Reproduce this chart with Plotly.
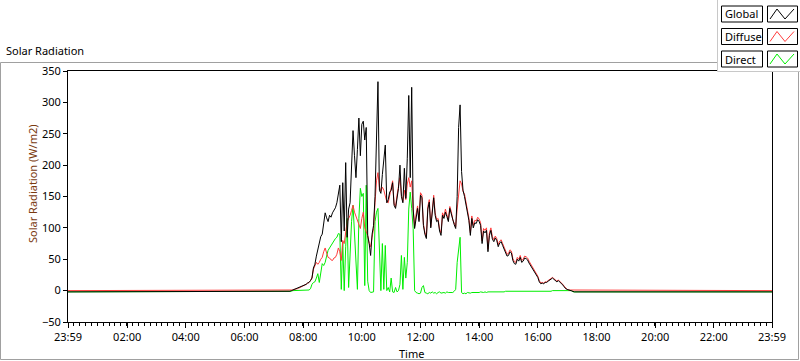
import pandas as pd
import plotly.graph_objects as go

# ---- data (W/m2), 3-minute samples from 07:30 to 17:30, plus night endpoints ----
day_start = "2024-01-01 07:30"
day_end = "2024-01-01 17:30"
t_first = "2023-12-31 23:59"
t_last = "2024-01-01 23:59"

night_global = -2
night_diffuse = 0
night_direct = -2

global_rad = [
    -2, -1, 0, 1, 2, 2, 3, 4, 5, 6,
    8, 9, 10, 12, 13, 16, 20, 36, 42, 55,
    66, 72, 86, 90, 107, 124, 116, 110, 120, 117,
    124, 128, 132, 140, 158, 168, 78, 172, 95, 204,
    85, 130, 140, 200, 255, 215, 180, 225, 275, 215,
    265, 270, 240, 260, 88, 75, 56, 90, 104, 150,
    240, 333, 160, 155, 185, 205, 232, 140, 145, 157,
    160, 172, 136, 131, 150, 163, 200, 150, 140, 195,
    147, 211, 311, 180, 324, 130, 99, 118, 131, 110,
    152, 148, 104, 90, 83, 130, 141, 100, 130, 148,
    120, 110, 112, 95, 88, 120, 115, 125, 118, 110,
    131, 122, 110, 105, 99, 150, 260, 296, 190, 160,
    150, 138, 120, 112, 88, 115, 100, 108, 107, 113,
    110, 104, 75, 95, 92, 96, 62, 88, 96, 82,
    78, 84, 80, 70, 76, 78, 72, 66, 58, 55,
    56, 62, 60, 48, 43, 42, 50, 47, 53, 45,
    47, 52, 51, 49, 44, 40, 37, 33, 30, 26,
    21, 14, 11, 12, 11, 13, 13, 15, 17, 19,
    20, 18, 16, 14, 16, 14, 12, 9, 6, 3,
    2, 1, 1, 0, -2, -2, -2, -2, -2, -2, -2,
]

diffuse_rad = [
    0, 0, 0, 1, 2, 2, 3, 4, 5, 6,
    8, 9, 10, 12, 13, 16, 20, 34, 40, 45,
    42, 45, 50, 53, 62, 68, 60, 53, 52, 49,
    48, 52, 53, 58, 68, 62, 48, 80, 75, 95,
    110, 115, 120, 128, 136, 125, 118, 112, 105, 99,
    115, 125, 100, 93, 88, 75, 70, 85, 99, 140,
    175, 188, 165, 158, 165, 160, 150, 142, 140, 150,
    162, 175, 138, 134, 152, 165, 180, 152, 142, 160,
    145, 170, 180, 165, 175, 130, 102, 122, 135, 113,
    156, 152, 106, 93, 86, 134, 145, 102, 134, 152,
    124, 113, 115, 98, 92, 124, 118, 130, 121, 113,
    134, 126, 113, 108, 102, 130, 160, 175, 170, 158,
    154, 142, 124, 116, 92, 119, 104, 112, 111, 117,
    114, 108, 79, 99, 96, 100, 66, 92, 100, 86,
    81, 87, 83, 73, 79, 81, 75, 69, 61, 58,
    59, 65, 63, 51, 46, 45, 53, 50, 56, 48,
    50, 55, 54, 52, 47, 43, 40, 36, 33, 29,
    23, 16, 12, 13, 12, 14, 14, 16, 18, 20,
    21, 19, 17, 15, 17, 15, 13, 10, 7, 4,
    2, 1, 1, 0, 0, 0, 0, 0, 0, 0, 0,
]

direct_rad = [
    -2, -2, -1, 0, 0, 0, 0, 0, 0, 0,
    0, 0, 0, 0, 1, 3, 10, 13, 14, 20,
    27, 13, 30, 43, 40, 45, 55, 64, 68, 72,
    75, 78, 83, 85, 91, 90, 2, 77, 0, 70,
    115, 5, 75, 110, 136, 90, 60, 2, 115, 163,
    150, 155, 8, 168, 15, 0, -3, -3, -2, 110,
    125, 131, 70, 0, 75, 2, 72, 0, 5, -2,
    20, -2, -3, 5, -2, 0, 10, 56, 2, 53,
    20, 45, 130, 157, 131, 99, 0, -3, -4, -5,
    -4, 5, 8, -3, -4, -5, -3, -4, -2, -4,
    -3, -5, -3, -2, -4, -3, -3, -4, -2, -3,
    -3, -2, -3, -1, 2, 45, 70, 85, -3, -5,
    -4, -5, -3, -4, -4, -3, -3, -4, -3, -3,
    -3, -2, -3, -3, -2, -3, -2, -2, -3, -2,
    -2, -2, -3, -2, -2, -2, -2, -2, -1, -1,
    -1, -1, -1, -1, -1, -1, -1, -1, -1, -1,
    -1, -1, -1, -1, -1, -1, -1, -1, -1, -1,
    -1, -1, -2, -1, -1, -1, -1, -1, -1, -1,
    0, 0, 0, 0, 0, 0, 0, 0, 0, 0,
    0, 0, 0, 0, -2, -2, -2, -2, -2, -2, -2,
]

tick_times = ["2023-12-31 23:59", "2024-01-01 02:00", "2024-01-01 04:00", "2024-01-01 06:00",
              "2024-01-01 08:00", "2024-01-01 10:00", "2024-01-01 12:00", "2024-01-01 14:00",
              "2024-01-01 16:00", "2024-01-01 18:00", "2024-01-01 20:00", "2024-01-01 22:00",
              "2024-01-01 23:59"]
tick_labels = ["23:59", "02:00", "04:00", "06:00", "08:00", "10:00", "12:00",
               "14:00", "16:00", "18:00", "20:00", "22:00", "23:59"]
y_ticks = [-50, 0, 50, 100, 150, 200, 250, 300, 350]

series_names = ["Global", "Diffuse", "Direct"]
series_colors = {"Global": "#000000", "Diffuse": "#ff3b3b", "Direct": "#00ee00"}

# ---- build ----
grid = list(pd.date_range(day_start, day_end, freq="3min"))
times = [pd.Timestamp(t_first)] + grid + [pd.Timestamp(t_last)]
series = {
    "Global": [night_global] + global_rad + [night_global],
    "Diffuse": [night_diffuse] + diffuse_rad + [night_diffuse],
    "Direct": [night_direct] + direct_rad + [night_direct],
}

FONT = "Noto Sans"
FS = 11
W, H = 800, 361
ML, MR, MT, MB = 68, 28, 71, 39
PW, PH = W - ML - MR, H - MT - MB


def px(x):
    return (x - ML) / PW


def py(y):
    return (H - MB - y) / PH


fig = go.Figure()
for name in ["Direct", "Diffuse", "Global"]:
    fig.add_trace(go.Scatter(x=times, y=series[name], mode="lines", name=name,
                             line=dict(color=series_colors[name], width=1),
                             hoverinfo="skip", showlegend=False))

shapes = []
annotations = []

# outer frame
shapes.append(dict(type="rect", xref="paper", yref="paper", x0=px(0.5), x1=px(798.5),
                   y0=py(359.5), y1=py(62.5), line=dict(color="#a0a0a0", width=1),
                   fillcolor="rgba(0,0,0,0)", layer="below"))

# legend panel
shapes.append(dict(type="rect", xref="paper", yref="paper", x0=px(717.5), x1=px(801),
                   y0=py(71.5), y1=py(-2), line=dict(color="#c8c8c8", width=1),
                   fillcolor="white", layer="above"))
rows = [(6, 22), (28.5, 44.5), (51, 67)]
for name, (top, bot) in zip(series_names, rows):
    shapes.append(dict(type="rect", xref="paper", yref="paper", x0=px(721.5), x1=px(762.5),
                       y0=py(bot), y1=py(top), line=dict(color="#000000", width=1),
                       fillcolor="white", layer="above"))
    shapes.append(dict(type="rect", xref="paper", yref="paper", x0=px(767.5), x1=px(797.5),
                       y0=py(bot), y1=py(top), line=dict(color="#000000", width=1),
                       fillcolor="white", layer="above"))
    pts = [(770, bot - 3), (777, top + 3), (785, bot - 3), (794, top + 3)]
    path = "M " + " L ".join(f"{px(a)},{py(b)}" for a, b in pts)
    shapes.append(dict(type="path", xref="paper", yref="paper", path=path,
                       line=dict(color=series_colors[name], width=1), layer="above"))
    annotations.append(dict(x=px(723), y=py((top + bot) / 2), xref="paper", yref="paper",
                            text=name, showarrow=False, xanchor="left", yanchor="middle",
                            font=dict(family=FONT, size=FS, color="black")))

annotations.append(dict(x=px(4), y=py(50), xref="paper", yref="paper", text="Solar Radiation",
                        showarrow=False, xanchor="left", yanchor="middle",
                        font=dict(family=FONT, size=FS, color="black")))
annotations.append(dict(x=px(32), y=py(184), xref="paper", yref="paper",
                        text="Solar Radiation (W/m2)", textangle=-90, showarrow=False,
                        xanchor="center", yanchor="middle",
                        font=dict(family=FONT, size=FS, color="#7a3a10")))
annotations.append(dict(x=px(411), y=py(353), xref="paper", yref="paper", text="Time",
                        showarrow=False, xanchor="center", yanchor="middle",
                        font=dict(family=FONT, size=FS, color="black")))

fig.update_layout(
    width=W, height=H,
    margin=dict(l=ML, r=MR, t=MT, b=MB, pad=0),
    paper_bgcolor="white", plot_bgcolor="white",
    font=dict(family=FONT, size=FS, color="black"),
    shapes=shapes, annotations=annotations,
    showlegend=False,
    xaxis=dict(type="date", range=[t_first, t_last], tickmode="array",
               tickvals=tick_times, ticktext=tick_labels, ticks="outside", ticklen=5,
               tickcolor="black", showgrid=False, zeroline=False, showline=True,
               linecolor="black", linewidth=1, mirror=True,
               tickfont=dict(family=FONT, size=FS, color="black"),
               minor=dict(ticks="outside", ticklen=3, tickcolor="black",
                          tick0=t_first, dtick=12 * 60 * 1000, showgrid=False)),
    yaxis=dict(range=[-50, 350], tickmode="array", tickvals=y_ticks, ticks="outside",
               ticklen=4, tickcolor="black", showgrid=False, zeroline=False,
               showline=True, linecolor="black", linewidth=1, mirror=True,
               tickfont=dict(family=FONT, size=FS, color="black")),
)

fig.write_html("out.html", config={"displayModeBar": False},
               post_script="document.body.style.margin='0';document.body.style.overflow='hidden';")
